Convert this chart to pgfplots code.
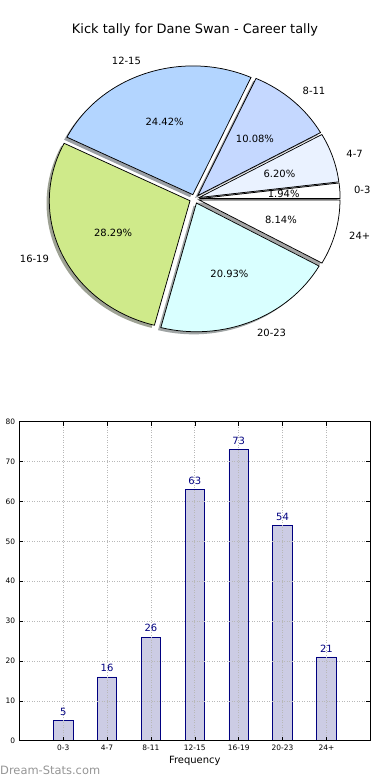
\documentclass[border=0pt]{standalone}
\usepackage{pgfplots}
\pgfplotsset{compat=1.18}
\usepackage{fontspec}
\setmainfont{DejaVu Sans}
\definecolor{c47}{HTML}{EAF2FF}
\definecolor{c811}{HTML}{C5D8FF}
\definecolor{c1215}{HTML}{B3D5FF}
\definecolor{c1619}{HTML}{CFEA8A}
\definecolor{c2023}{HTML}{D9FFFF}
\definecolor{barfill}{HTML}{CCCCE4}
\definecolor{barnavy}{HTML}{000080}
\definecolor{wmgray}{HTML}{959595}
\tikzset{pielab/.style={font=\fontsize{10}{12}\selectfont, inner sep=0pt},
         wedge/.style={draw=black, line width=0.75bp}}
\def\total{258}
\def\pcx{194.5}\def\pcy{581.1}\def\prx{140.7}\def\pry{128.7}\def\pef{0.035}
\gdef\pacc{0}\gdef\shadowcmds{}\gdef\wedgecmds{}\gdef\textcmds{}
% \pieslice{label}{count}{colour}{percent}
\newcommand\pieslice[4]{%
  \pgfmathsetmacro\pA{\pacc}%
  \pgfmathsetmacro\pB{\pacc+(#2/\total)*360}%
  \pgfmathsetmacro\pM{(\pA+\pB)/2}%
  \pgfmathsetmacro\pOx{\pcx+\pef*\prx*cos(\pM)}%
  \pgfmathsetmacro\pOy{\pcy+\pef*\pry*sin(\pM)}%
  \pgfmathsetmacro\pSx{\pOx-2.8}%
  \pgfmathsetmacro\pSy{\pOy-2.6}%
  \pgfmathsetmacro\pLx{\pOx+1.1*\prx*cos(\pM)}%
  \pgfmathsetmacro\pLy{\pOy+1.1*\pry*sin(\pM)}%
  \pgfmathsetmacro\pPx{\pOx+0.6*\prx*cos(\pM)}%
  \pgfmathsetmacro\pPy{\pOy+0.6*\pry*sin(\pM)}%
  \pgfmathparse{cos(\pM)>0 ? 1 : 0}%
  \ifdim\pgfmathresult pt>0.5pt \def\panc{west}\else\def\panc{east}\fi
  \xdef\shadowcmds{\unexpanded\expandafter{\shadowcmds}\noexpand\fill[#3!30!black,opacity=0.5] (axis cs:\pSx,\pSy) -- ++(\pA:\prx bp and \pry bp) arc[start angle=\pA,end angle=\pB,x radius=\prx bp,y radius=\pry bp] -- cycle;}%
  \xdef\wedgecmds{\unexpanded\expandafter{\wedgecmds}\noexpand\filldraw[wedge,fill=#3] (axis cs:\pOx,\pOy) -- ++(\pA:\prx bp and \pry bp) arc[start angle=\pA,end angle=\pB,x radius=\prx bp,y radius=\pry bp] -- cycle;}%
  \xdef\textcmds{\unexpanded\expandafter{\textcmds}\noexpand\node[pielab,anchor=\panc] at (axis cs:\pLx,\pLy) {#1}; \noexpand\node[pielab,anchor=center] at (axis cs:\pPx,\pPy) {#4\noexpand\%};}%
  \xdef\pacc{\pB}%
}
% pie data: label, count, colour, percent
\pieslice{0-3}{5}{white}{1.94}
\pieslice{4-7}{16}{c47}{6.20}
\pieslice{8-11}{26}{c811}{10.08}
\pieslice{12-15}{63}{c1215}{24.42}
\pieslice{16-19}{73}{c1619}{28.29}
\pieslice{20-23}{54}{c2023}{20.93}
\pieslice{24+}{21}{white}{8.14}
\begin{document}
\begin{tikzpicture}
\path[use as bounding box] (0bp,0bp) rectangle (390bp,780bp);
\begin{axis}[at={(0bp,380bp)}, anchor=south west, width=390bp, height=400bp,
  scale only axis, xmin=0, xmax=390, ymin=380, ymax=780, hide axis, clip=false]
\shadowcmds
\wedgecmds
\textcmds
\node[font=\fontsize{13}{15}\selectfont, inner sep=0pt] at (axis cs:195,750.5) {Kick tally for Dane Swan - Career tally};
\end{axis}
\begin{axis}[at={(19.3bp,39.3bp)}, anchor=south west, width=351bp, height=319bp,
  scale only axis, xmin=-1, xmax=7, ymin=0, ymax=80,
  xtick={0,...,6}, xticklabels={0-3,4-7,8-11,12-15,16-19,20-23,24+},
  ytick={0,10,...,80},
  xtick pos=both, ytick pos=both, tick align=inside, major tick length=4bp,
  tick style={black, line width=0.5bp},
  grid=major, grid style={black!28, line width=0.6bp, dash pattern=on 1bp off 1.5bp},
  axis on top,
  /pgf/number format/assume math mode=true,
  ticklabel style={font=\fontsize{7.5}{9}\selectfont},
  xticklabel style={inner sep=0pt, anchor=north, yshift=-4bp},
  yticklabel style={inner sep=0pt, anchor=east, xshift=-4bp},
  axis line style={black, line width=0.8bp},
  xlabel={Frequency},
  xlabel style={font=\fontsize{10}{12}\selectfont, at={(axis description cs:0.5,0)}, anchor=center, yshift=-19.8bp},
  nodes near coords,
  every node near coord/.append style={font=\fontsize{10}{12}\selectfont, text=barnavy, inner sep=0pt, anchor=south, yshift=4.5bp},
]
\addplot[ybar, bar width=19.5bp, fill=barfill, draw=barnavy, line width=0.8bp]
  coordinates {(0,5) (1,16) (2,26) (3,63) (4,73) (5,54) (6,21)};
\end{axis}
\node[anchor=west, inner sep=0pt, font=\fontsize{11.5}{13}\selectfont, text=wmgray] at (0bp,10bp) {Dream-Stats.com};
\end{tikzpicture}
\end{document}
